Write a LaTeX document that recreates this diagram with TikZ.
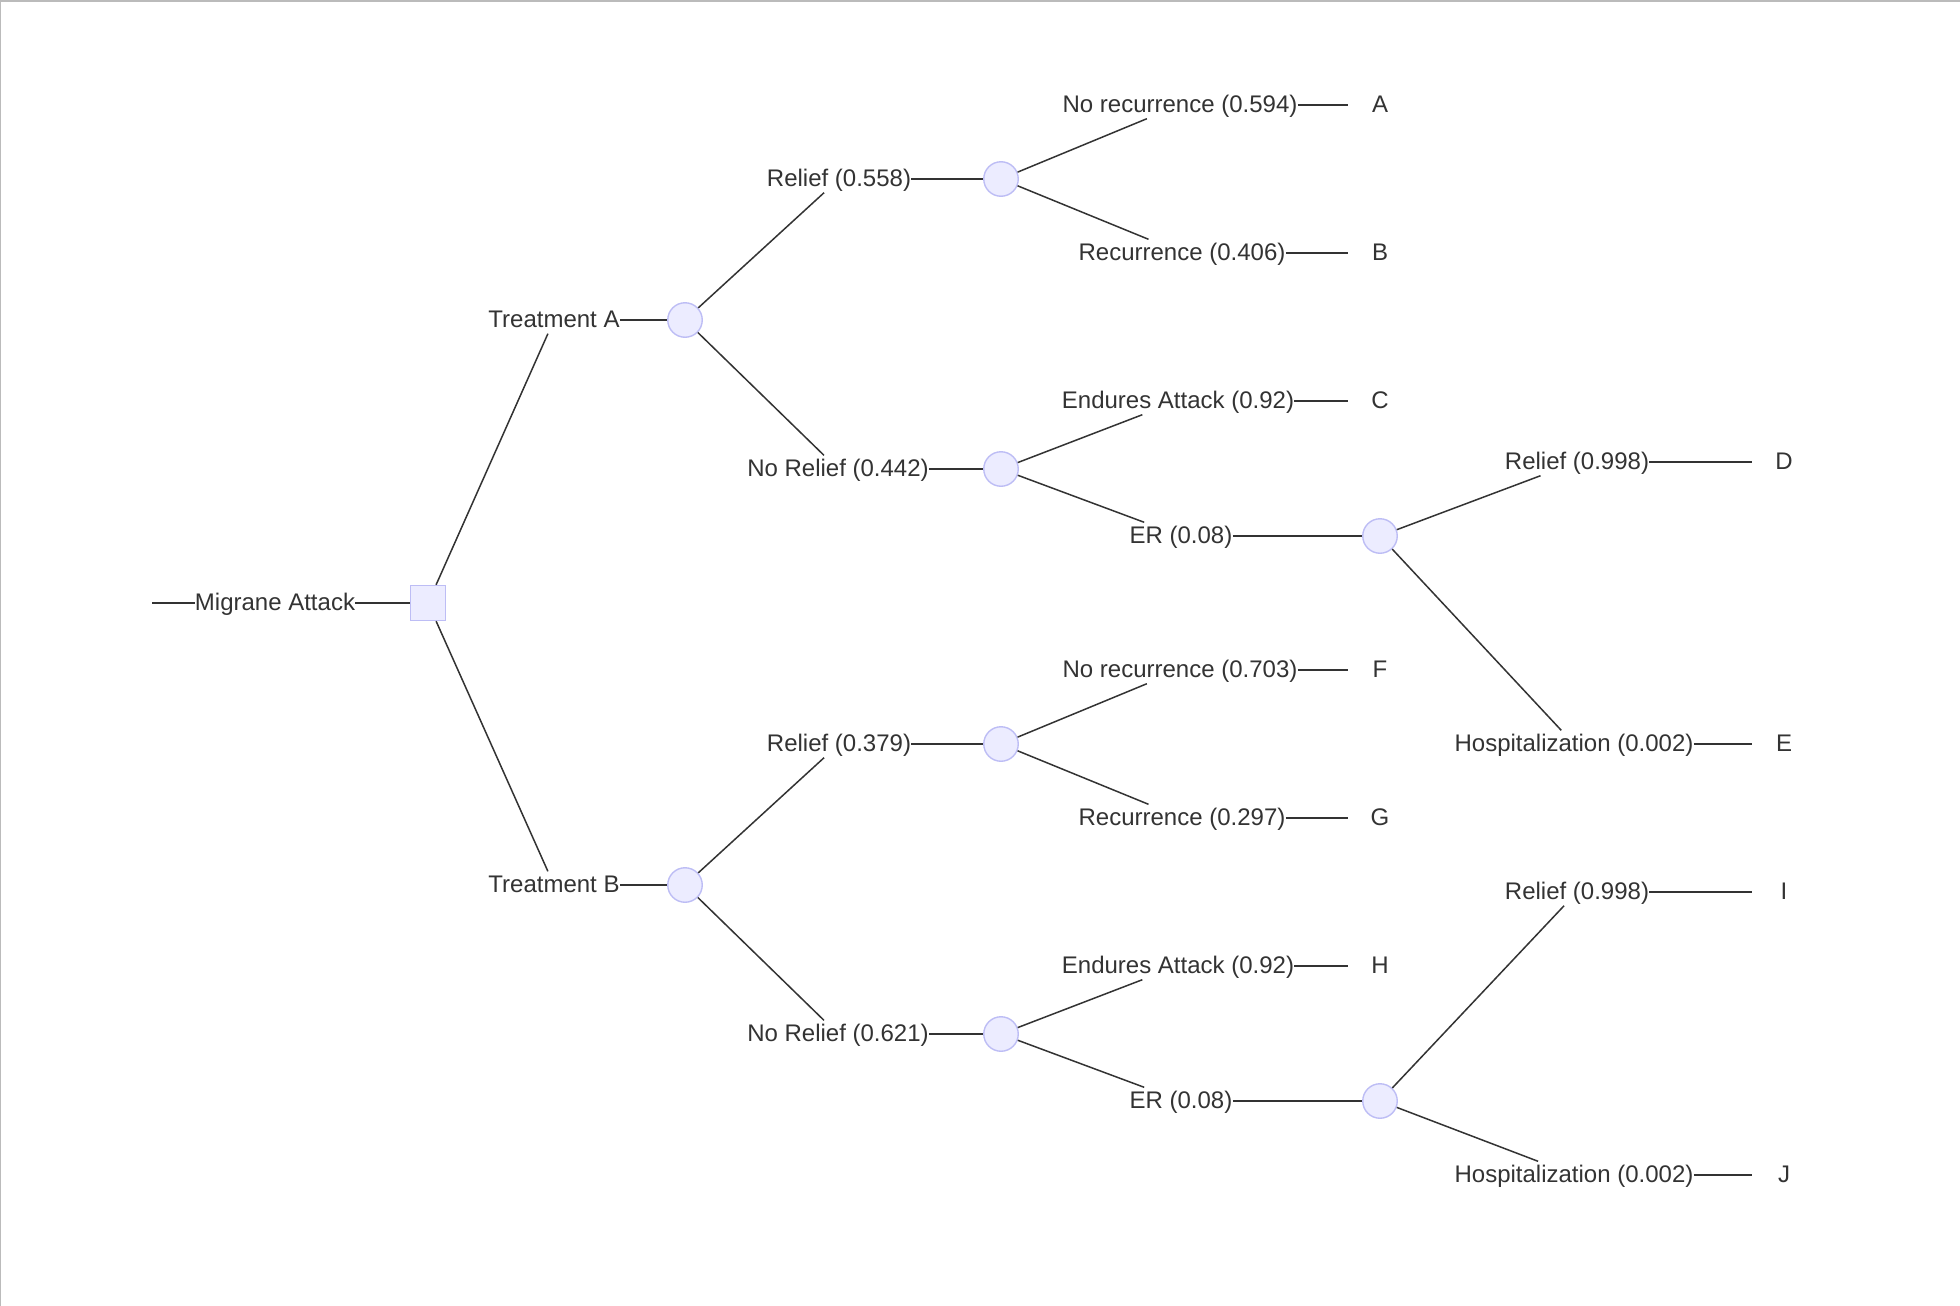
\documentclass[tikz,border=0pt]{standalone}
\usepackage{fontspec}
\setmainfont{Liberation Sans}
\definecolor{ink}{HTML}{333333}
\definecolor{nodefill}{HTML}{ECECFF}
\definecolor{nodeline}{HTML}{BDBDF5}
\definecolor{frameline}{HTML}{BBBBBB}

\begin{document}
\begin{tikzpicture}[x=0.5pt,y=-0.5pt,
  conn/.style={draw=ink, line width=0.75pt},
  lbl/.style={inner xsep=0pt, inner ysep=0pt, text height=10.3pt, text depth=3.0pt,
              font=\fontsize{12}{14}\selectfont, text=ink},
  leaf/.style={lbl, minimum width=31.5pt},
  chance/.style={circle, fill=nodefill, draw=nodeline, line width=0.7pt,
                 minimum size=17.25pt, inner sep=0pt},
  decision/.style={rectangle, fill=nodefill, draw=nodeline, line width=0.7pt,
                   minimum size=17.5pt, inner sep=0pt}]

% canvas and its frame
\useasboundingbox (0,0) rectangle (1960,1306);
\fill[white] (0,0) rectangle (1960,1306);
\fill[frameline] (0,0) rectangle (1960,2);
\fill[frameline] (0,0) rectangle (1,1306);

% root
\coordinate (start) at (152,603);
\node[lbl] (ma) at (275,603) {Migrane Attack};
\node[decision] (sq) at (428,603) {};

% treatments
\node[lbl] (ta) at (554,320) {Treatment A};
\node[lbl] (tb) at (554,885) {Treatment B};
\node[chance] (ca) at (685,320) {};
\node[chance] (cb) at (685,885) {};

% first response
\node[lbl] (ra1) at (839,179) {Relief (0.558)};
\node[lbl] (ra2) at (838,469) {No Relief (0.442)};
\node[lbl] (rb1) at (839,744) {Relief (0.379)};
\node[lbl] (rb2) at (838,1034) {No Relief (0.621)};
\node[chance] (ca1) at (1001,179) {};
\node[chance] (ca2) at (1001,469) {};
\node[chance] (cb1) at (1001,744) {};
\node[chance] (cb2) at (1001,1034) {};

% second level outcomes
\node[lbl] (oa1) at (1180,105) {No recurrence (0.594)};
\node[lbl] (oa2) at (1182,253) {Recurrence (0.406)};
\node[lbl] (oa3) at (1178,401) {Endures Attack (0.92)};
\node[lbl] (oa4) at (1181,536) {ER (0.08)};
\node[lbl] (ob1) at (1180,670) {No recurrence (0.703)};
\node[lbl] (ob2) at (1182,818) {Recurrence (0.297)};
\node[lbl] (ob3) at (1178,966) {Endures Attack (0.92)};
\node[lbl] (ob4) at (1181,1101) {ER (0.08)};

\node[leaf] (lA) at (1380,105) {A};
\node[leaf] (lB) at (1380,253) {B};
\node[leaf] (lC) at (1380,401) {C};
\node[leaf] (lF) at (1380,670) {F};
\node[leaf] (lG) at (1380,818) {G};
\node[leaf] (lH) at (1380,966) {H};
\node[chance] (era) at (1380,536) {};
\node[chance] (erb) at (1380,1101) {};

% emergency room outcomes
\node[lbl] (da) at (1577,462) {Relief (0.998)};
\node[lbl] (ea) at (1574,744) {Hospitalization (0.002)};
\node[lbl] (db) at (1577,892) {Relief (0.998)};
\node[lbl] (eb) at (1574,1175) {Hospitalization (0.002)};
\node[leaf] (lD) at (1784,462) {D};
\node[leaf] (lE) at (1784,744) {E};
\node[leaf] (lI) at (1784,892) {I};
\node[leaf] (lJ) at (1784,1175) {J};

% connectors
\draw[conn] (start) -- (ma);
\draw[conn] (ma) -- (sq);
\draw[conn] (sq) -- (ta);
\draw[conn] (sq) -- (tb);
\draw[conn] (ta) -- (ca);
\draw[conn] (tb) -- (cb);

\draw[conn] (ca) -- (ra1);
\draw[conn] (ca) -- (ra2);
\draw[conn] (cb) -- (rb1);
\draw[conn] (cb) -- (rb2);
\draw[conn] (ra1) -- (ca1);
\draw[conn] (ra2) -- (ca2);
\draw[conn] (rb1) -- (cb1);
\draw[conn] (rb2) -- (cb2);

\draw[conn] (ca1) -- (oa1);
\draw[conn] (ca1) -- (oa2);
\draw[conn] (ca2) -- (oa3);
\draw[conn] (ca2) -- (oa4);
\draw[conn] (cb1) -- (ob1);
\draw[conn] (cb1) -- (ob2);
\draw[conn] (cb2) -- (ob3);
\draw[conn] (cb2) -- (ob4);

\draw[conn] (oa1) -- (lA);
\draw[conn] (oa2) -- (lB);
\draw[conn] (oa3) -- (lC);
\draw[conn] (oa4) -- (era);
\draw[conn] (ob1) -- (lF);
\draw[conn] (ob2) -- (lG);
\draw[conn] (ob3) -- (lH);
\draw[conn] (ob4) -- (erb);

\draw[conn] (era) -- (da);
\draw[conn] (era) -- (ea);
\draw[conn] (erb) -- (db);
\draw[conn] (erb) -- (eb);
\draw[conn] (da) -- (lD);
\draw[conn] (ea) -- (lE);
\draw[conn] (db) -- (lI);
\draw[conn] (eb) -- (lJ);
\end{tikzpicture}
\end{document}
